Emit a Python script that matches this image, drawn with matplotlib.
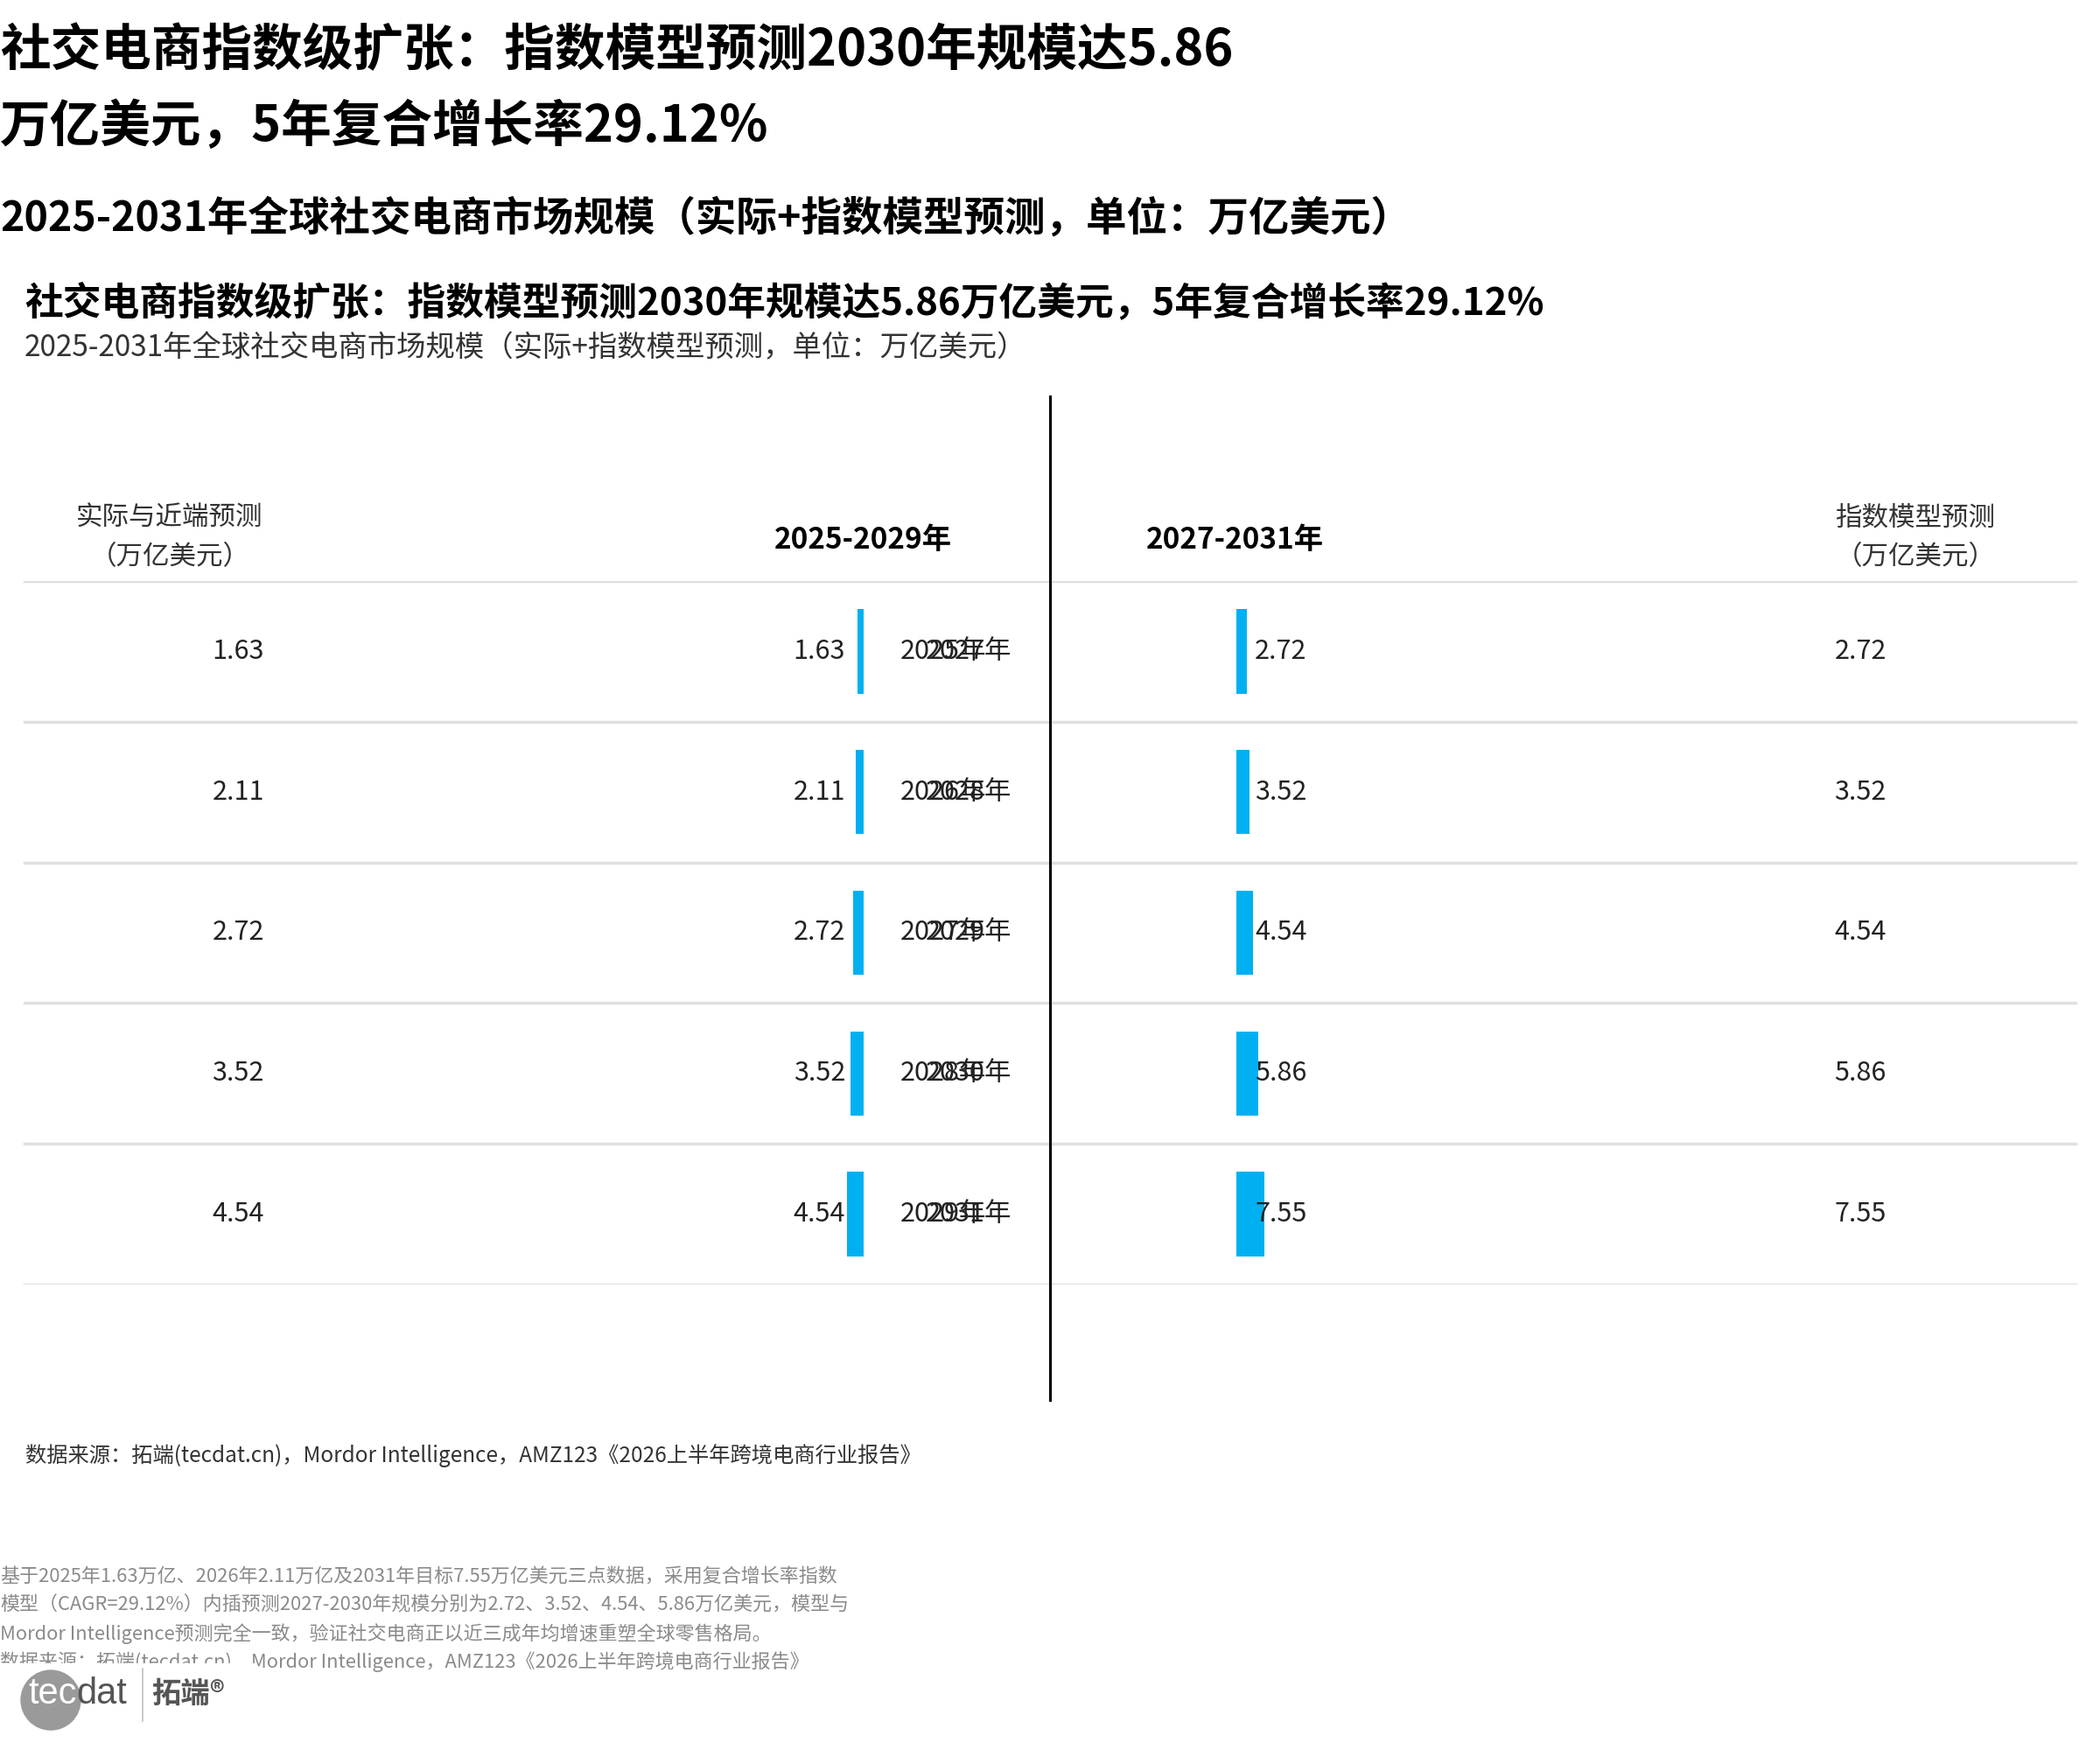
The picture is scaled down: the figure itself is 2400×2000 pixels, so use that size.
import numpy as np
import matplotlib
matplotlib.use('Agg')
from matplotlib import pyplot as plt
from matplotlib.lines import Line2D
from matplotlib.patches import Ellipse, Rectangle
from matplotlib.transforms import blended_transform_factory

plt.rcParams['font.family'] = ['Noto Sans CJK SC', 'DejaVu Sans']

# data
years_left = ['2025年', '2026年', '2027年', '2028年', '2029年']
years_right = ['2027年', '2028年', '2029年', '2030年', '2031年']
actual_vals = [1.63, 2.11, 2.72, 3.52, 4.54]
model_vals = [2.72, 3.52, 4.54, 5.86, 7.55]

title = '社交电商指数级扩张：指数模型预测2030年规模达5.86\n万亿美元，5年复合增长率29.12%'
subtitle = '2025-2031年全球社交电商市场规模（实际+指数模型预测，单位：万亿美元）'
inner_title = '社交电商指数级扩张：指数模型预测2030年规模达5.86万亿美元，5年复合增长率29.12%'
source = '数据来源：拓端(tecdat.cn)，Mordor Intelligence，AMZ123《2026上半年跨境电商行业报告》'
notes = ['基于2025年1.63万亿、2026年2.11万亿及2031年目标7.55万亿美元三点数据，采用复合增长率指数',
         '模型（CAGR=29.12%）内插预测2027-2030年规模分别为2.72、3.52、4.54、5.86万亿美元，模型与',
         'Mordor Intelligence预测完全一致，验证社交电商正以近三成年均增速重塑全球零售格局。',
         source]

W, H = 2400, 2000
def fx(p): return p / W
def fy(p): return 1 - p / H

BAR = '#00b0f0'
fig = plt.figure(figsize=(24, 20), dpi=100)

# top titles
fig.text(0, fy(58), title.split('\n')[0], fontsize=41.5, fontweight='bold', va='center')
fig.text(0, fy(145), title.split('\n')[1], fontsize=41.5, fontweight='bold', va='center')
fig.text(0, fy(250), subtitle, fontsize=33.5, fontweight='bold', va='center')
fig.text(fx(28), fy(346), inner_title, fontsize=31.5, fontweight='bold', va='center')
fig.text(fx(28), fy(398), subtitle, fontsize=24, color='#333333', va='center')

# table area
top, bot = 664, 1468
n = len(actual_vals)
ax = fig.add_axes([0, fy(bot), 1, (bot - top) / H])
ax.set_xlim(0, 1)
ax.set_ylim(n, 0)
ax.axis('off')
for k in range(n + 1):
    ax.axhline(k, xmin=fx(28), xmax=fx(2372), color='#e0e0e0', lw=2.5, zorder=0)

ypos = np.arange(n) + 0.5
tr = blended_transform_factory(fig.transFigure, ax.transData)

# bars
axl = fig.add_axes([fx(987 - 300), fy(bot), fx(300), (bot - top) / H])
axl.barh(ypos, actual_vals, height=0.6, color=BAR)
axl.set_xlim(70, 0)
axl.set_ylim(n, 0)
axl.axis('off')

axr = fig.add_axes([fx(1413), fy(bot), fx(300), (bot - top) / H])
axr.barh(ypos, model_vals, height=0.6, color=BAR)
axr.set_xlim(0, 70)
axr.set_ylim(n, 0)
axr.axis('off')

lab = dict(fontsize=22, color='#222222', va='center', transform=tr, zorder=5)
for i in range(n):
    ax.text(fx(272), ypos[i], f'{actual_vals[i]:.2f}', ha='center', **lab)
    ax.text(fx(966), ypos[i], f'{actual_vals[i]:.2f}', ha='right', **lab)
    ax.text(fx(1029), ypos[i], years_left[i], ha='left', **lab)
    ax.text(fx(1156), ypos[i], years_right[i], ha='right', **lab)
    fig.text(fx(1434), fy(top + (bot - top) * ypos[i] / n), f'{model_vals[i]:.2f}',
             ha='left', va='center', fontsize=22, color='#222222', zorder=10)
    ax.text(fx(2126), ypos[i], f'{model_vals[i]:.2f}', ha='center', **lab)

# headers
hdr = dict(fontsize=22, color='#333333', ha='center', va='center')
fig.text(fx(194), fy(592), '实际与近端预测', **hdr)
fig.text(fx(194), fy(637), '（万亿美元）', **hdr)
fig.text(fx(2189), fy(592), '指数模型预测', **hdr)
fig.text(fx(2189), fy(637), '（万亿美元）', **hdr)
fig.text(fx(986), fy(617), '2025-2029年', fontsize=24, fontweight='bold', ha='center', va='center')
fig.text(fx(1411), fy(617), '2027-2031年', fontsize=24, fontweight='bold', ha='center', va='center')

# center divider
fig.add_artist(Line2D([fx(1200), fx(1200)], [fy(453), fy(1600)], color='black', lw=2.2))

# source and notes
fig.text(fx(29), fy(1664), source, fontsize=17.5, color='#333333', va='center')
for j, line in enumerate(notes):
    fig.text(0, fy(1803 + 32 * j), line, fontsize=15.8, color='#8a8a8a', va='center')

# logo
fig.add_artist(Rectangle((0, fy(2000)), fx(290), (2000 - 1901) / H, color='white', zorder=20))
fig.add_artist(Ellipse((fx(58), fy(1943)), fx(68), 68 / H, color='#9a9a9a', zorder=21))
logo_font = ['Liberation Sans', 'DejaVu Sans']
t1 = fig.text(fx(32), fy(1936), 'tec', fontsize=30, color='white', family=logo_font,
              va='center', zorder=23)
fig.canvas.draw()
bb = t1.get_window_extent(fig.canvas.get_renderer())
fig.text(bb.x1 / W, fy(1936), 'dat', fontsize=30, color='#555555', family=logo_font,
         va='center', zorder=22)
fig.add_artist(Line2D([fx(163), fx(163)], [fy(1907), fy(1967)], color='#c0c0c0', lw=1.2, zorder=22))
fig.text(fx(173), fy(1936), '拓端®', fontsize=24, fontweight='bold', color='#555555',
         va='center', zorder=22)

fig.savefig('out.png', dpi=100, facecolor='white')
